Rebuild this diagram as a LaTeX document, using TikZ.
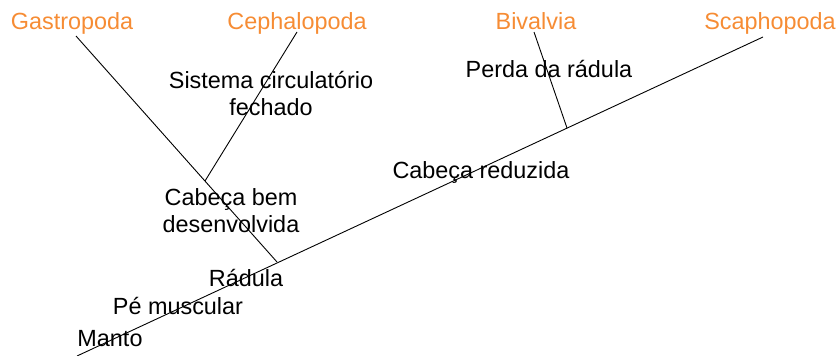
\documentclass[tikz,border=0pt]{standalone}
\usepackage{fontspec}
\setmainfont{Liberation Sans}
\definecolor{taxon}{RGB}{246,140,52}
\begin{document}
\begin{tikzpicture}[x=1pt,y=-1pt,
  branch/.style={draw=black,line width=0.9pt},
  taxonlbl/.style={text=taxon,anchor=base,inner sep=0pt,font=\fontsize{23.4}{27}\selectfont},
  traitlbl/.style={text=black,anchor=base,inner sep=0pt,align=center,font=\fontsize{23.4}{27}\selectfont}]
\useasboundingbox (0,0) rectangle (839,356);
% branch points
\coordinate (root) at (77,356);
\coordinate (scaEnd) at (763,37);
\coordinate (gasEnd) at (76,36);
\coordinate (cepEnd) at (297,32);
\coordinate (bivEnd) at (534,32);
\coordinate (nodeA) at (277,262);
\coordinate (nodeB) at (567,128);
\coordinate (nodeC) at (205,181);
% branches
\draw[branch] (root) -- (scaEnd);
\draw[branch] (nodeA) -- (gasEnd);
\draw[branch] (nodeC) -- (cepEnd);
\draw[branch] (nodeB) -- (bivEnd);
% taxa
\node[taxonlbl] (gas) at (72,29) {Gastropoda};
\node[taxonlbl] (cep) at (297,29) {Cephalopoda};
\node[taxonlbl] (biv) at (536,29) {Bivalvia};
\node[taxonlbl] (sca) at (770,29) {Scaphopoda};
% traits
\node[traitlbl] (sis) at (271,115) {Sistema circulatório\\fechado};
\node[traitlbl] (cab) at (231,232) {Cabeça bem\\desenvolvida};
\node[traitlbl] (rad) at (246,286) {Rádula};
\node[traitlbl] (pe) at (178,314) {Pé muscular};
\node[traitlbl] (man) at (110,346) {Manto};
\node[traitlbl] (per) at (549,77) {Perda da rádula};
\node[traitlbl] (red) at (481,178) {Cabeça reduzida};
\end{tikzpicture}
\end{document}
